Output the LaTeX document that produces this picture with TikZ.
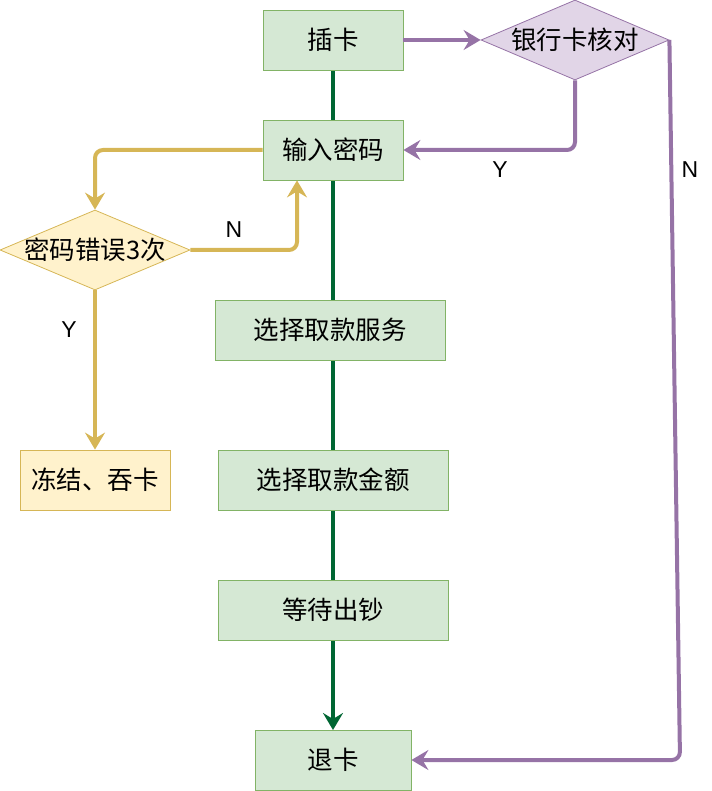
\documentclass[tikz,border=0pt]{standalone}
\usepackage{fontspec}
\setmainfont{Liberation Sans}
\newfontfamily\cjk{Noto Sans CJK SC}
\usetikzlibrary{shapes.geometric,arrows.meta}
\definecolor{gfill}{HTML}{D5E8D4}
\definecolor{gline}{HTML}{82B366}
\definecolor{pfill}{HTML}{E1D5E7}
\definecolor{pline}{HTML}{9673A6}
\definecolor{yfill}{HTML}{FFF2CC}
\definecolor{yline}{HTML}{D6B656}
\definecolor{dgreen}{HTML}{006633}
\tikzset{
  txt/.style={font=\cjk\fontsize{25.5}{30}\selectfont},
  gbox/.style={txt, draw=gline, fill=gfill, line width=0.8pt, minimum height=60pt, inner sep=0pt},
  ybox/.style={txt, draw=yline, fill=yfill, line width=0.8pt, minimum height=60pt, inner sep=0pt},
  pdia/.style={txt, diamond, aspect=2.35, draw=pline, fill=pfill, line width=0.8pt, inner sep=0pt, minimum width=188pt, minimum height=80pt},
  ydia/.style={txt, diamond, aspect=2.375, draw=yline, fill=yfill, line width=0.8pt, inner sep=0pt, minimum width=190pt, minimum height=80pt},
  tip/.style={-{Stealth[length=17pt, width=20pt, inset=6pt]}},
  parr/.style={tip, draw=pline, line width=4pt, rounded corners=8pt},
  yarr/.style={tip, draw=yline, line width=4pt, rounded corners=8pt},
  garr/.style={tip, draw=dgreen, line width=4pt},
  lbl/.style={font=\fontsize{23}{27}\selectfont}
}
\begin{document}
\begin{tikzpicture}[x=1pt,y=-1pt]
\useasboundingbox (0,0) rectangle (711,791);
% green trunk first, behind the boxes
\coordinate (top) at (333,70);
\coordinate (bot) at (333,730);
\draw[garr] (top) -- (bot);
% nodes
\node[gbox, minimum width=140pt] (insert) at (333,40) {插卡};
\node[gbox, minimum width=140pt] (pwd) at (333,150) {输入密码};
\node[gbox, minimum width=230pt] (svc) at (330,330) {选择取款服务};
\node[gbox, minimum width=230pt] (amt) at (333,480) {选择取款金额};
\node[gbox, minimum width=230pt] (wait) at (333,610) {等待出钞};
\node[gbox, minimum width=156pt] (eject) at (333,760) {退卡};
\node[ybox, minimum width=150pt] (freeze) at (95,480) {冻结、吞卡};
\node[pdia] (check) at (575,40) {\makebox[0pt]{银行卡核对}};
\node[ydia] (err) at (95,250) {\makebox[0pt]{密码错误3次}};
% purple edges
\draw[parr] (insert.east) -- (check.west);
\draw[parr] (check.south) |- (pwd.east);
\coordinate (nb) at (680,760);
\draw[parr] (check.east) -- (nb) -- (eject.east);
% yellow edges
\draw[yarr] (pwd.west) -| (err.north);
\draw[yarr] (err.east) -| ([xshift=-36pt]pwd.south);
\draw[yarr] (err.south) -- (freeze.north);
% labels
\node[lbl] (ly) at (500,170) {Y};
\node[lbl] (ln) at (690,170) {N};
\node[lbl] (lerrn) at (234,230) {N};
\node[lbl] (lerry) at (69,330) {Y};
\end{tikzpicture}
\end{document}
